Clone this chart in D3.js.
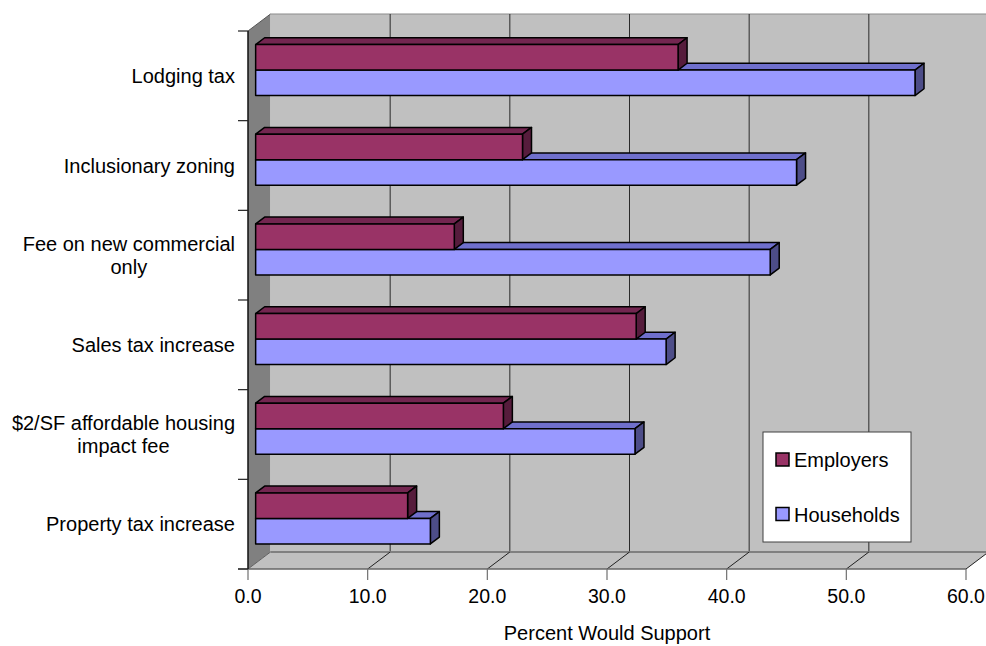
<!DOCTYPE html>
<html>
<head>
<meta charset="utf-8">
<script src="https://cdn.jsdelivr.net/npm/d3@7"></script>
<style>
  html, body { margin: 0; padding: 0; background: #ffffff; }
  svg { display: block; font-family: "Liberation Sans", Arial, sans-serif; }
</style>
</head>
<body>
<svg id="chart" width="986" height="646"></svg>
<script>
// Survey results: share of respondents who would support each funding source
const categories = [
  "Lodging tax",
  "Inclusionary zoning",
  "Fee on new commercial only",
  "Sales tax increase",
  "$2/SF affordable housing impact fee",
  "Property tax increase"
];
const seriesNames = ["Employers", "Households"];
const employers  = [35.3, 22.3, 16.6, 31.8, 20.7, 12.7];
const households = [55.1, 45.2, 43.0, 34.3, 31.7, 14.6];
const xTicks = [0, 10, 20, 30, 40, 50, 60];
const xTitle = "Percent Would Support";

const seriesColors = {
  Employers:  { front: "#993366", top: "#732650", side: "#561c3c" },
  Households: { front: "#9999ff", top: "#6f6fcc", side: "#4d4d88" }
};

const svg = d3.select("#chart");

// front plane scales; the back wall is offset by the 3D depth vector
const x = d3.scaleLinear().domain([0, 60]).range([248, 966]);
const y = d3.scaleBand().domain(categories).range([31, 569]);
const depth = { dx: 22.5, dy: -17 };
const barFront = 0.34, barBack = 0.74;   // bar slab position within the depth
const groupH = 51;
const sub = d3.scaleBand().domain(seriesNames).range([0, groupH]);

const x0 = x(0), x1 = x(60);
const yTop = y.range()[0], yBot = y.range()[1];
const bx = v => x(v) + depth.dx;
const pts = a => a.map(p => p.join(",")).join(" ");

// left wall
svg.append("polygon")
  .attr("points", pts([[x0, yTop], [x0 + depth.dx, yTop + depth.dy], [x0 + depth.dx, yBot + depth.dy], [x0, yBot]]))
  .attr("fill", "#808080");

// back wall
svg.append("rect")
  .attr("x", x0 + depth.dx).attr("y", yTop + depth.dy)
  .attr("width", x1 - x0).attr("height", yBot - yTop)
  .attr("fill", "#c0c0c0");
svg.append("line")
  .attr("x1", x0 + depth.dx).attr("x2", x1 + depth.dx)
  .attr("y1", yTop + depth.dy).attr("y2", yTop + depth.dy)
  .attr("stroke", "#8c8c8c").attr("stroke-width", 1.2);
svg.append("line")
  .attr("x1", x0).attr("y1", yTop)
  .attr("x2", x0 + depth.dx).attr("y2", yTop + depth.dy)
  .attr("stroke", "#555").attr("stroke-width", 1);

// floor
svg.append("polygon")
  .attr("points", pts([[x0, yBot], [x0 + depth.dx, yBot + depth.dy], [x1 + depth.dx, yBot + depth.dy], [x1, yBot]]))
  .attr("fill", "#c0c0c0");

// gridlines on the back wall
svg.append("g").selectAll("line")
  .data(xTicks.filter(t => t > 0 && t < 60))
  .join("line")
  .attr("x1", d => bx(d)).attr("x2", d => bx(d))
  .attr("y1", yTop + depth.dy).attr("y2", yBot + depth.dy)
  .attr("stroke", "#2a2a2a").attr("stroke-width", 1);

// floor back edge
svg.append("line")
  .attr("x1", x0 + depth.dx).attr("x2", x1 + depth.dx)
  .attr("y1", yBot + depth.dy).attr("y2", yBot + depth.dy)
  .attr("stroke", "#808080").attr("stroke-width", 2);

// gridlines across the floor
svg.append("g").selectAll("line")
  .data(xTicks)
  .join("line")
  .attr("x1", d => x(d)).attr("y1", yBot)
  .attr("x2", d => bx(d)).attr("y2", yBot + depth.dy)
  .attr("stroke", d => d === 0 ? "#606060" : "#222").attr("stroke-width", 1);

// value axis (front edge of the floor)
svg.append("line")
  .attr("x1", x0 - 10).attr("x2", x1).attr("y1", yBot).attr("y2", yBot)
  .attr("stroke", "#666").attr("stroke-width", 1.3);
svg.append("g").selectAll("line")
  .data(xTicks)
  .join("line")
  .attr("x1", d => x(d)).attr("x2", d => x(d))
  .attr("y1", yBot).attr("y2", yBot + 11)
  .attr("stroke", "#707070").attr("stroke-width", 1.2);
svg.append("g").selectAll("text")
  .data(xTicks)
  .join("text")
  .attr("x", d => x(d)).attr("y", 603)
  .attr("text-anchor", "middle")
  .attr("font-size", 19.5).attr("fill", "#000")
  .text(d3.format(".1f"));

svg.append("text")
  .attr("x", (x0 + x1) / 2).attr("y", 640)
  .attr("text-anchor", "middle")
  .attr("font-size", 20).attr("fill", "#000")
  .text(xTitle);

// category axis
svg.append("line")
  .attr("x1", x0).attr("x2", x0).attr("y1", yTop).attr("y2", yBot)
  .attr("stroke", "#111").attr("stroke-width", 1.5);
const catTicks = categories.map(c => y(c)).concat([yBot]);
svg.append("g").selectAll("line")
  .data(catTicks)
  .join("line")
  .attr("x1", x0 - 10).attr("x2", x0)
  .attr("y1", d => d).attr("y2", d => d)
  .attr("stroke", "#222").attr("stroke-width", 1.2);

// bars: drawn as 3D slabs (front, top and end faces)
const rows = [];
categories.forEach((c, i) => {
  rows.push({ cat: c, series: "Households", value: households[i] });
  rows.push({ cat: c, series: "Employers", value: employers[i] });
});
const fdx = depth.dx * barFront, fdy = depth.dy * barFront;
const ddx = depth.dx * (barBack - barFront), ddy = depth.dy * (barBack - barFront);
const bars = svg.append("g").selectAll("g").data(rows).join("g")
  .attr("stroke", "#000").attr("stroke-width", 1.5).attr("stroke-linejoin", "round");
bars.each(function(d) {
  const g = d3.select(this);
  const col = seriesColors[d.series];
  const L = x(0) + fdx, R = x(d.value) + fdx;
  const T = y(d.cat) + (y.bandwidth() - groupH) / 2 + sub(d.series) + fdy;
  const h = sub.bandwidth();
  g.append("polygon").attr("fill", col.top)
    .attr("points", pts([[L, T], [L + ddx, T + ddy], [R + ddx, T + ddy], [R, T]]));
  g.append("polygon").attr("fill", col.side)
    .attr("points", pts([[R, T], [R + ddx, T + ddy], [R + ddx, T + h + ddy], [R, T + h]]));
  g.append("rect").attr("fill", col.front)
    .attr("x", L).attr("y", T).attr("width", R - L).attr("height", h);
});

// category labels, wrapped and centred as a block right of the ticks
const labelRight = 235, lineH = 23, maxW = 240;
const labels = svg.append("g").attr("font-size", 20).attr("fill", "#000");
categories.forEach(c => {
  const words = c.split(" ");
  const probe = labels.append("text");
  const lines = [];
  let cur = [];
  words.forEach(w => {
    const trial = cur.concat([w]).join(" ");
    probe.text(trial);
    if (cur.length && probe.node().getComputedTextLength() > maxW) {
      lines.push(cur.join(" "));
      cur = [w];
    } else cur.push(w);
  });
  lines.push(cur.join(" "));
  const widths = lines.map(l => { probe.text(l); return probe.node().getComputedTextLength(); });
  probe.remove();
  const blockW = d3.max(widths);
  const cx = labelRight - blockW / 2;
  const cy = y(c) + y.bandwidth() / 2;
  const first = cy - (lines.length - 1) * lineH / 2 + 7;
  lines.forEach((l, k) => {
    labels.append("text")
      .attr("x", cx).attr("y", first + k * lineH)
      .attr("text-anchor", "middle")
      .text(l);
  });
});

// legend
const legend = svg.append("g").attr("transform", "translate(763,432)");
legend.append("rect")
  .attr("width", 148).attr("height", 110)
  .attr("fill", "#fff").attr("stroke", "#404040").attr("stroke-width", 1);
const items = legend.selectAll("g.item").data(seriesNames).join("g")
  .attr("class", "item")
  .attr("transform", (d, i) => `translate(13,${21 + i * 54.5})`);
items.append("rect")
  .attr("width", 13).attr("height", 13)
  .attr("fill", d => seriesColors[d].front)
  .attr("stroke", "#000").attr("stroke-width", 1.5);
items.append("text")
  .attr("x", 18).attr("y", 14)
  .attr("font-size", 20).attr("fill", "#000")
  .text(d => d);
</script>
</body>
</html>
